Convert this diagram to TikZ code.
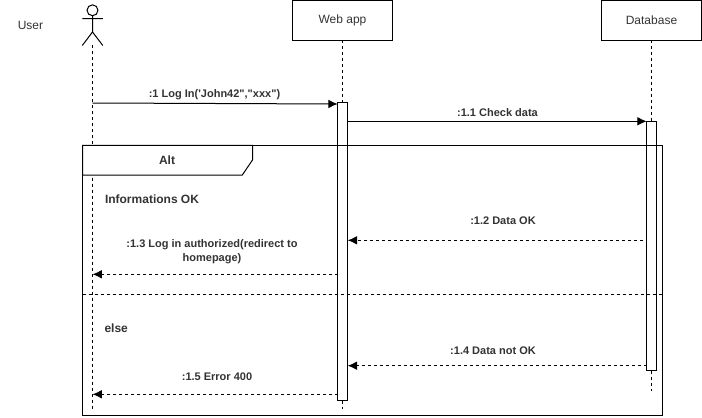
\documentclass[tikz,border=0pt]{standalone}
\usepackage{fontspec}
\setmainfont{Liberation Sans}
\newfontfamily\rawsans{Liberation Sans}
\usetikzlibrary{arrows.meta}
\tikzset{
  x=0.75pt,y=-0.75pt,
  every node/.style={inner sep=0pt,outer sep=0pt},
  thin line/.style={line width=0.75pt,black},
  lifebox/.style={draw,thin line,fill=white,minimum width=75pt,minimum height=30pt,font=\fontsize{9}{11}\selectfont,text=black!80},
  lifeline/.style={thin line,dash pattern=on 2.25pt off 2.25pt},
  actbar/.style={draw,thin line,fill=white,minimum width=7.5pt,anchor=north},
  msg/.style={thin line,-{Latex[length=7pt,width=6.5pt]}},
  reply/.style={thin line,dash pattern=on 2.25pt off 2.25pt,-{Latex[length=7pt,width=6.5pt,sep=0pt]}},
  lab/.style={font=\fontsize{8.25}{10.5}\selectfont\bfseries,text=black!80,align=center},
  bigl/.style={font=\fontsize{9}{11}\selectfont\bfseries,text=black!80}
}
\begin{document}
\begin{tikzpicture}
\useasboundingbox (0,0) rectangle (702,417);
\fill[white] (0,0) rectangle (702,417);
% actor
\node[circle,draw,thin line,minimum size=8.2pt] (head) at (92.5,10.3) {};
\coordinate (neck) at (92.5,32);
\coordinate (armL) at (82.3,18.7);
\coordinate (armR) at (102.8,18.7);
\coordinate (legL) at (82.3,45.5);
\coordinate (legR) at (102.8,45.5);
\coordinate (userTop) at (92.5,45.5);
\coordinate (userEnd) at (92.5,409);
\draw[thin line] (head.south) -- (neck) (armL) -- (armR) (legL) -- (neck) -- (legR);
\node[font=\fontsize{9}{11}\selectfont,text=black!80] (user) at (30.5,25) {User};
% lifeline heads
\node[lifebox] (web) at (342.5,20.5) {Web app};
\node[lifebox] (db) at (651.5,20.5) {Database};
\coordinate (webEnd) at (342.5,409);
\coordinate (dbEnd) at (651.5,391);
\draw[lifeline] (userTop) -- (userEnd);
\draw[lifeline] (web.south) -- (webEnd);
\draw[lifeline] (db.south) -- (dbEnd);
% activations
\node[actbar,minimum height=223.2pt] (webAct) at (342.5,102.7) {};
\node[actbar,minimum height=186.7pt] (dbAct) at (651.5,121.3) {};
% frame
\coordinate (fTL) at (82.5,145.3);
\coordinate (fBR) at (662.5,415.3);
\coordinate (sepL) at (82.5,294.3);
\coordinate (sepR) at (662.5,294.3);
\draw[thin line] (fTL) rectangle (fBR);
\draw[lifeline] (sepL) -- (sepR);
\draw[thin line,fill=white] (fTL) -- (252.5,145.3) -- (252.5,160) -- (242.3,175) -- (82.5,175) -- cycle;
\node[bigl] (alt) at (167,160) {Alt};
\node[bigl,anchor=west] (ok) at (105,199.2) {Informations OK};
\node[bigl,anchor=west] (else) at (104.5,328.2) {else};
% messages
\coordinate (m1a) at (92.5,103);
\coordinate (m1b) at (337.7,104);
\draw[msg] (m1a) -- (m1b);
\node[lab] (l1) at (214.5,94.5) {\rawsans\bfseries :1 Log In('John42","xxx")};
\coordinate (m11a) at (347.7,121.3);
\coordinate (m11b) at (646.7,121.3);
\draw[msg] (m11a) -- (m11b);
\node[lab] (l11) at (497.5,113) {:1.1 Check data};
\coordinate (m12a) at (643,240.3);
\coordinate (m12b) at (347.7,240.3);
\draw[reply] (m12a) -- (m12b);
\node[lab] (l12) at (503,220.5) {:1.2 Data OK};
\coordinate (m13a) at (337.7,274.3);
\coordinate (m13b) at (92.5,274.3);
\draw[reply] (m13a) -- (m13b);
\node[lab] (l13) at (212,251.8) {:1.3 Log in authorized(redirect to\\homepage)};
\coordinate (m14a) at (646.7,365.7);
\coordinate (m14b) at (347.7,365.7);
\draw[reply] (m14a) -- (m14b);
\node[lab] (l14) at (493,350.5) {:1.4 Data not OK};
\coordinate (m15a) at (337.7,394.3);
\coordinate (m15b) at (92.5,394.3);
\draw[reply] (m15a) -- (m15b);
\node[lab] (l15) at (217,376.5) {:1.5 Error 400};
\end{tikzpicture}
\end{document}
